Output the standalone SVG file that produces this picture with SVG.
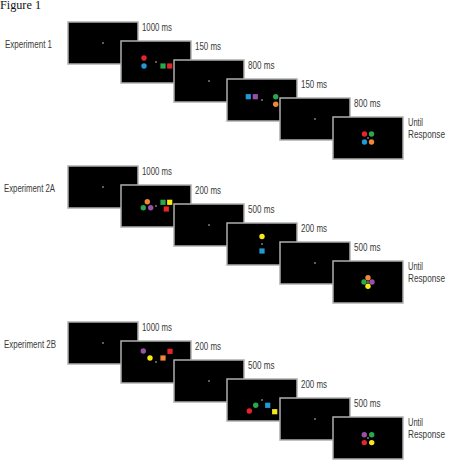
<svg xmlns="http://www.w3.org/2000/svg" width="450" height="473" viewBox="0 0 450 473">
  <style>
    .bg { fill: #ffffff; }
    .screen { fill: #000000; stroke: #aeaeae; stroke-width: 1.5; }
    .fix { fill: #d0d0d0; }
    .lbl { font-family: "Liberation Sans Narrow", "Liberation Sans", Arial, sans-serif; font-size: 10px; fill: #3a3a3a; }
    .title { font-family: "Liberation Serif", "Times New Roman", serif; font-size: 12px; fill: #111111; }
    .red { fill: #e8242b; }
    .blue { fill: #1e9ad6; }
    .green { fill: #2aa84a; }
    .orange { fill: #f0863a; }
    .purple { fill: #9b4fa8; }
    .yellow { fill: #f7e81a; }
  </style>
  <defs>
    <!-- one screen: 70 x 42 with centre fixation point -->
    <g id="screen">
      <rect class="screen" x="0" y="0" width="70" height="42"/>
      <circle class="fix" cx="35" cy="21" r="0.8"/>
    </g>
  </defs>

  <rect class="bg" x="0" y="0" width="450" height="473"/>
  <text class="title" x="0" y="8.5" textLength="41" lengthAdjust="spacingAndGlyphs">Figure 1</text>

  <!-- Experiment 1 -->
  <g id="exp1">
    <text class="lbl" x="5" y="47.6" textLength="47" lengthAdjust="spacingAndGlyphs">Experiment 1</text>
    <g id="exp1-s1" transform="translate(68,22)">
      <use href="#screen"/>
    </g>
    <text class="lbl" x="142" y="30.5" textLength="30" lengthAdjust="spacingAndGlyphs">1000 ms</text>
    <g id="exp1-s2" transform="translate(121,41)">
      <use href="#screen"/>
      <circle class="red" cx="23" cy="17" r="2.7"/>
      <circle class="blue" cx="23" cy="25" r="2.7"/>
      <rect class="green" x="39.4" y="22.4" width="5.2" height="5.2"/>
      <rect class="red" x="46.1" y="22.4" width="5.2" height="5.2"/>
    </g>
    <text class="lbl" x="195" y="49.5" textLength="26" lengthAdjust="spacingAndGlyphs">150 ms</text>
    <g id="exp1-s3" transform="translate(174,60)">
      <use href="#screen"/>
    </g>
    <text class="lbl" x="248" y="68.5" textLength="26.5" lengthAdjust="spacingAndGlyphs">800 ms</text>
    <g id="exp1-s4" transform="translate(227,79)">
      <use href="#screen"/>
      <rect class="blue" x="18.7" y="15.1" width="5.2" height="5.2"/>
      <rect class="purple" x="25.7" y="15.1" width="5.2" height="5.2"/>
      <circle class="green" cx="48.7" cy="17.7" r="2.7"/>
      <circle class="orange" cx="48.7" cy="25.3" r="2.7"/>
    </g>
    <text class="lbl" x="301" y="87.5" textLength="26" lengthAdjust="spacingAndGlyphs">150 ms</text>
    <g id="exp1-s5" transform="translate(280,98)">
      <use href="#screen"/>
    </g>
    <text class="lbl" x="354" y="106.5" textLength="26.5" lengthAdjust="spacingAndGlyphs">800 ms</text>
    <g id="exp1-s6" transform="translate(333,117)">
      <use href="#screen"/>
      <circle class="red" cx="31.5" cy="17" r="2.7"/>
      <circle class="green" cx="38.5" cy="17" r="2.7"/>
      <circle class="blue" cx="31.5" cy="25" r="2.7"/>
      <circle class="orange" cx="38.5" cy="25" r="2.7"/>
    </g>
    <text class="lbl" x="408" y="125.5" textLength="15" lengthAdjust="spacingAndGlyphs">Until</text>
    <text class="lbl" x="408" y="137.5" textLength="37" lengthAdjust="spacingAndGlyphs">Response</text>
  </g>

  <!-- Experiment 2A -->
  <g id="exp2a">
    <text class="lbl" x="4" y="191.6" textLength="51" lengthAdjust="spacingAndGlyphs">Experiment 2A</text>
    <g id="exp2a-s1" transform="translate(68,166)">
      <use href="#screen"/>
    </g>
    <text class="lbl" x="142" y="174.5" textLength="30" lengthAdjust="spacingAndGlyphs">1000 ms</text>
    <g id="exp2a-s2" transform="translate(121,185)">
      <use href="#screen"/>
      <circle class="orange" cx="26.3" cy="16.7" r="2.7"/>
      <circle class="green" cx="22.3" cy="22.7" r="2.7"/>
      <circle class="purple" cx="29.7" cy="22.7" r="2.7"/>
      <rect class="green" x="39.4" y="14.7" width="5.2" height="5.2"/>
      <rect class="yellow" x="46.1" y="14.7" width="5.2" height="5.2"/>
      <rect class="red" x="42.7" y="21.4" width="5.2" height="5.2"/>
    </g>
    <text class="lbl" x="195" y="193.5" textLength="26" lengthAdjust="spacingAndGlyphs">200 ms</text>
    <g id="exp2a-s3" transform="translate(174,204)">
      <use href="#screen"/>
    </g>
    <text class="lbl" x="248" y="212.5" textLength="26.5" lengthAdjust="spacingAndGlyphs">500 ms</text>
    <g id="exp2a-s4" transform="translate(227,223)">
      <use href="#screen"/>
      <circle class="yellow" cx="35" cy="13.5" r="2.7"/>
      <rect class="blue" x="32.4" y="25.4" width="5.2" height="5.2"/>
    </g>
    <text class="lbl" x="301" y="231.5" textLength="26" lengthAdjust="spacingAndGlyphs">200 ms</text>
    <g id="exp2a-s5" transform="translate(280,242)">
      <use href="#screen"/>
    </g>
    <text class="lbl" x="354" y="250.5" textLength="26.5" lengthAdjust="spacingAndGlyphs">500 ms</text>
    <g id="exp2a-s6" transform="translate(333,261)">
      <use href="#screen"/>
      <circle class="orange" cx="35" cy="16.7" r="2.7"/>
      <circle class="green" cx="31" cy="21" r="2.7"/>
      <circle class="purple" cx="39" cy="21" r="2.7"/>
      <circle class="yellow" cx="35" cy="25.3" r="2.7"/>
    </g>
    <text class="lbl" x="408" y="269.5" textLength="15" lengthAdjust="spacingAndGlyphs">Until</text>
    <text class="lbl" x="408" y="281.5" textLength="37" lengthAdjust="spacingAndGlyphs">Response</text>
  </g>

  <!-- Experiment 2B -->
  <g id="exp2b">
    <text class="lbl" x="4" y="347.6" textLength="52" lengthAdjust="spacingAndGlyphs">Experiment 2B</text>
    <g id="exp2b-s1" transform="translate(68,322)">
      <use href="#screen"/>
    </g>
    <text class="lbl" x="142" y="330.5" textLength="30" lengthAdjust="spacingAndGlyphs">1000 ms</text>
    <g id="exp2b-s2" transform="translate(121,341)">
      <use href="#screen"/>
      <circle class="purple" cx="22.3" cy="10" r="2.7"/>
      <circle class="yellow" cx="29" cy="17" r="2.7"/>
      <rect class="orange" x="39.4" y="14.4" width="5.2" height="5.2"/>
      <rect class="red" x="46.4" y="7.7" width="5.2" height="5.2"/>
    </g>
    <text class="lbl" x="195" y="349.5" textLength="26" lengthAdjust="spacingAndGlyphs">200 ms</text>
    <g id="exp2b-s3" transform="translate(174,360)">
      <use href="#screen"/>
    </g>
    <text class="lbl" x="248" y="368.5" textLength="26.5" lengthAdjust="spacingAndGlyphs">500 ms</text>
    <g id="exp2b-s4" transform="translate(227,379)">
      <use href="#screen"/>
      <circle class="green" cx="28.7" cy="26.3" r="2.7"/>
      <rect class="blue" x="38.1" y="23.7" width="5.2" height="5.2"/>
      <circle class="red" cx="22.3" cy="32" r="2.7"/>
      <rect class="yellow" x="45.1" y="30.1" width="5.2" height="5.2"/>
    </g>
    <text class="lbl" x="301" y="387.5" textLength="26" lengthAdjust="spacingAndGlyphs">200 ms</text>
    <g id="exp2b-s5" transform="translate(280,398)">
      <use href="#screen"/>
    </g>
    <text class="lbl" x="354" y="406.5" textLength="26.5" lengthAdjust="spacingAndGlyphs">500 ms</text>
    <g id="exp2b-s6" transform="translate(333,417)">
      <use href="#screen"/>
      <circle class="purple" cx="31.3" cy="17.8" r="2.7"/>
      <circle class="green" cx="38.7" cy="17.8" r="2.7"/>
      <circle class="red" cx="31.3" cy="25.6" r="2.7"/>
      <circle class="yellow" cx="38.7" cy="25.6" r="2.7"/>
    </g>
    <text class="lbl" x="408" y="425.5" textLength="15" lengthAdjust="spacingAndGlyphs">Until</text>
    <text class="lbl" x="408" y="437.5" textLength="37" lengthAdjust="spacingAndGlyphs">Response</text>
  </g>
</svg>
